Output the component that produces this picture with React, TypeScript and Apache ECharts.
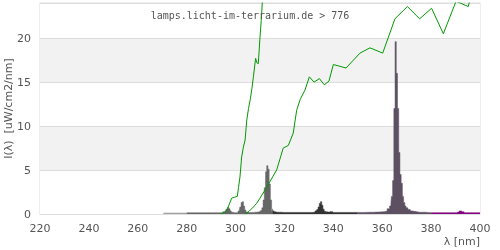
import React, { useEffect, useRef } from "react";
import * as echarts from "echarts";

const titleText = "lamps.licht-im-terrarium.de > 776";
const xAxisName = "λ [nm]";
const yAxisName = "I(λ)  [uW/cm2/nm]";

// green reference curves [nm, value]
const curveA: [number, number][] = [
  [294, 0], [296, 0.3], [297, 0.8], [298.4, 1.8], [299.5, 1.9], [300.7, 2.0], [301.2, 3.0], [301.8, 4.2],
  [302.5, 6.5], [303.2, 7.6], [303.9, 8.4], [304.6, 10.7], [305.3, 12.0], [306, 13.0], [306.7, 14.3],
  [307.3, 15.6], [308.2, 17.7], [308.7, 17.2], [309.3, 17.1], [310, 20.1], [310.5, 22.0], [311, 24.3], [311.5, 27],
];
const curveB: [number, number][] = [
  [303.9, 0], [305.5, 0.3], [307.3, 0.8], [308.6, 1.2], [310, 1.8], [312, 2.7], [314.1, 3.7], [316.8, 5.0],
  [319.5, 7.5], [321.6, 7.8], [323.6, 9.2], [325, 11.8], [326.4, 13.0], [328.4, 14.1], [330.2, 15.6],
  [332.1, 15.0], [334.3, 15.4], [336.3, 14.7], [338.2, 15.1], [340, 17.0], [342.7, 16.8], [345.2, 16.6],
  [348.2, 17.5], [350.9, 18.3], [355, 18.9], [360.2, 18.3], [365.2, 22.2], [370.3, 23.6], [375.3, 22.2],
  [380.2, 23.4], [385, 20.5], [390.2, 24.2], [395.2, 23.6], [396, 24.5], [400, 25],
];

// lamp spectrum by band [nm, value]
const bandUVC: [number, number][] = [[270.5, 0.12], [275, 0.12], [280, 0.12]];
const bandUVB: [number, number][] = [
  [280, 0.14], [285, 0.14], [290, 0.14], [294, 0.15], [295.5, 0.25], [296.5, 0.5], [297, 0.75], [297.5, 0.6],
  [298, 0.35], [298.5, 0.2], [299.5, 0.15], [300.5, 0.15], [301.5, 0.35], [302, 0.8], [302.5, 1.3],
  [303, 1.4], [303.5, 0.9], [304, 0.45], [304.5, 0.22], [305.5, 0.17], [307, 0.18], [308, 0.2], [309, 0.22],
  [310, 0.28], [310.5, 0.4], [311, 0.7], [311.5, 1.6], [312, 3.0], [312.5, 4.8], [313, 5.5], [313.5, 5.1],
  [314, 3.4], [314.5, 1.6], [315, 0.6],
];
const bandUVA2: [number, number][] = [
  [315, 0.6], [315.5, 0.35], [316, 0.25], [317, 0.2], [320, 0.18], [325, 0.18], [330, 0.18], [332, 0.2],
  [333, 0.35], [333.5, 0.5], [334, 0.8], [334.5, 1.2], [335, 1.4], [335.5, 1.0], [336, 0.55], [336.5, 0.3],
  [337, 0.25], [338, 0.22], [339, 0.3], [339.5, 0.25], [340, 0.18], [345, 0.18], [350, 0.18],
];
const bandUVA1: [number, number][] = [
  [350, 0.18], [355, 0.2], [358, 0.22], [360, 0.25], [361.5, 0.3], [362.5, 0.6], [363.5, 0.9], [364, 2.0],
  [364.5, 3.8], [365, 12.0], [365.5, 19.6], [366, 16.0], [366.5, 12.0], [367, 7.0], [367.5, 4.5],
  [368, 3.5], [368.5, 2.0], [369, 1.3], [369.5, 0.9], [370, 0.7], [371, 0.5], [372, 0.35], [373, 0.3],
  [374, 0.25], [375, 0.2], [380, 0.15],
];
const bandViolet: [number, number][] = [
  [380, 0.15], [385, 0.15], [390, 0.15], [391, 0.22], [392, 0.35], [393, 0.25], [394, 0.15], [400, 0.15],
];

const bandColors = ["#a0a0a0", "#666666", "#333333", "#5c5062", "#800080"];
const bands = [bandUVC, bandUVB, bandUVA2, bandUVA1, bandViolet];

export default function App() {
  const ref = useRef<HTMLDivElement>(null);
  useEffect(() => {
    if (!ref.current) return;
    const chart = echarts.init(ref.current, null, { renderer: "svg" });
    const bandSeries = bands.map((d, i) => ({
      type: "line",
      data: d,
      step: "middle",
      showSymbol: false,
      symbol: "none",
      lineStyle: { width: 0.5, color: bandColors[i] },
      itemStyle: { color: bandColors[i] },
      areaStyle: { color: bandColors[i], opacity: 1 },
      z: 2,
    }));
    const curveSeries = [curveA, curveB].map((d) => ({
      type: "line",
      data: d,
      showSymbol: false,
      symbol: "none",
      lineStyle: { width: 1, color: "#009900" },
      itemStyle: { color: "#009900" },
      z: 3,
    }));
    chart.setOption({
      animation: false,
      title: {
        text: titleText,
        left: "center",
        top: 5,
        textStyle: { fontFamily: "DejaVu Sans Mono", fontSize: 10, fontWeight: "normal", color: "#555" },
      },
      grid: {
        left: 40, right: 20, top: 3, bottom: 36, show: true, borderColor: "#dddddd", borderWidth: 1,
        backgroundColor: "transparent", containLabel: false, outerBoundsMode: "none",
      },
      xAxis: {
        type: "value",
        min: 220,
        max: 400,
        interval: 20,
        axisLine: { show: true, lineStyle: { color: "#dddddd" } },
        axisTick: { show: false },
        splitLine: { show: false },
        axisLabel: { color: "#555", fontFamily: "DejaVu Sans", fontSize: 11, margin: 9 },
      },
      yAxis: {
        type: "value",
        min: 0,
        max: 24,
        interval: 5,
        name: yAxisName,
        nameLocation: "middle",
        nameGap: 26,
        nameMoveOverlap: false,
        nameTextStyle: { color: "#555", fontFamily: "DejaVu Sans", fontSize: 11 },
        axisLine: { show: false },
        axisTick: { show: false },
        splitLine: { show: true, lineStyle: { color: "#dddddd" } },
        splitArea: { show: true, areaStyle: { color: ["#ffffff", "#f2f2f2"] } },
        axisLabel: { color: "#555", fontFamily: "DejaVu Sans", fontSize: 11, margin: 9, showMaxLabel: false },
      },
      graphic: [
        {
          type: "text",
          right: 20,
          top: 236,
          style: { text: xAxisName, fill: "#555", font: "11px 'DejaVu Sans'" },
        },
      ],
      series: [...bandSeries, ...curveSeries],
    });
    return () => chart.dispose();
  }, []);
  return <div ref={ref} style={{ position: "fixed", left: 0, top: 0, width: 500, height: 250 }} />;
}
